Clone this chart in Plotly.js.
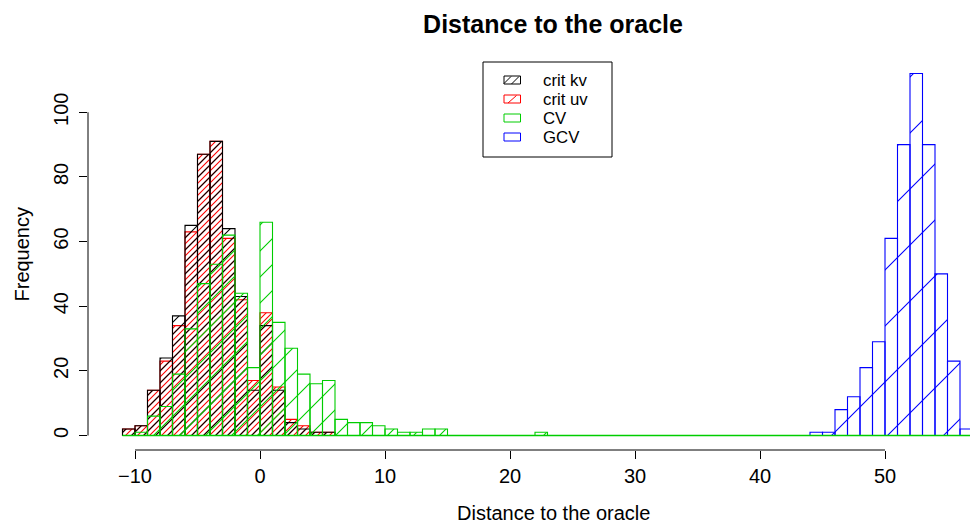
<!DOCTYPE html>
<html>
<head>
<meta charset="utf-8">
<script src="https://cdn.plot.ly/plotly-3.0.1.min.js"></script>
<style>html,body{margin:0;padding:0;background:#fff}#chart{width:970px;height:526px}</style>
</head>
<body>
<div id="chart"></div>
<script>
// ---- data (histogram bins of width 1, left edges + counts) ----
const binWidth = 1;
const kvBins   = [-11,-10,-9,-8,-7,-6,-5,-4,-3,-2,-1,0,1,2,3,4,5];
const kvCounts = [2,3,14,24,37,65,87,91,64,43,14,34,14,4,2,1,1];
const uvBins   = [-11,-10,-9,-8,-7,-6,-5,-4,-3,-2,-1,0,1,2,3,4,5];
const uvCounts = [2,3,14,23,34,63,87,91,61,42,17,38,15,5,3,1,1];
const cvBins   = [-11,-10,-9,-8,-7,-6,-5,-4,-3,-2,-1,0,1,2,3,4,5,6,7,8,9,10,11,12,13,14,15,16,17,18,19,20,21,22];
const cvCounts = [0,1,6,9,19,33,47,53,62,44,21,66,35,27,19,16,17,5,4,4,3,2,1,1,2,2,0,0,0,0,0,0,0,1];
const gcvBins   = [44,45,46,47,48,49,50,51,52,53,54,55,56];
const gcvCounts = [1,1,8,12,21,29,61,90,112,90,50,23,2];
const xTickVals = [-10,0,10,20,30,40,50];
const yTickVals = [0,20,40,60,80,100];
const seriesNames = ['crit kv','crit uv','CV','GCV'];
const seriesColors = ['#000000','#FF0000','#00CD00','#0000FF'];

// ---- geometry ----
const W = 970, H = 526;
const M = {l: 88, r: 0, t: 59, b: 76};
const plotW = W - M.l - M.r, plotH = H - M.t - M.b;
const px2x = px => (px - M.l) / plotW;
const py2y = py => (H - M.b - py) / plotH;
const FONT = 'Liberation Sans, Arial, Helvetica, sans-serif';

function hist(name, bins, counts, color, spacing, lw) {
  const size = spacing / Math.SQRT2;
  return {
    type: 'bar', name: name, showlegend: false,
    x: bins.map(b => b + binWidth / 2), y: counts, width: binWidth,
    hoverinfo: 'skip',
    marker: {
      color: 'rgba(0,0,0,0)',
      line: {color: color, width: 1.1},
      pattern: {shape: '/', fgcolor: color, bgcolor: 'rgba(0,0,0,0)', size: size, solidity: lw / size}
    }
  };
}

const traces = [
  hist(seriesNames[1], uvBins, uvCounts, seriesColors[1], 6, 1.1),
  hist(seriesNames[0], kvBins, kvCounts, seriesColors[0], 12, 1.1),
  hist(seriesNames[3], gcvBins, gcvCounts, seriesColors[3], 56, 1.1),
  hist(seriesNames[2], cvBins, cvCounts, seriesColors[2], 26, 1.1)
];

const allBins = kvBins.concat(uvBins, cvBins, gcvBins);
const brkMin = Math.min(...allBins), brkMax = Math.max(...allBins) + binWidth;

const shapes = [
  {type: 'line', xref: 'x', yref: 'paper', x0: xTickVals[0], x1: xTickVals[xTickVals.length - 1], y0: 0, y1: 0,
   line: {color: '#000', width: 1}},
  {type: 'line', xref: 'paper', yref: 'y', x0: 0, x1: 0, y0: yTickVals[0], y1: yTickVals[yTickVals.length - 1],
   line: {color: '#000', width: 1}},
  {type: 'line', xref: 'x', yref: 'y', x0: brkMin, x1: brkMax, y0: 0, y1: 0, layer: 'above',
   line: {color: seriesColors[2], width: 1.5}},
  // legend box
  {type: 'rect', xref: 'paper', yref: 'paper', x0: px2x(483), x1: px2x(612), y0: py2y(157), y1: py2y(62),
   line: {color: '#000', width: 1}, fillcolor: 'rgba(0,0,0,0)', layer: 'above'}
];
const annotations = [
  {text: 'Distance to the oracle', xref: 'paper', yref: 'paper', x: px2x(553), y: py2y(513),
   xanchor: 'center', yanchor: 'middle', showarrow: false, font: {family: FONT, size: 20, color: '#000'}},
  {text: 'Frequency', xref: 'paper', yref: 'paper', x: px2x(21.5), y: py2y(254), textangle: -90,
   xanchor: 'center', yanchor: 'middle', showarrow: false, font: {family: FONT, size: 20, color: '#000'}}
];

// ---- hand-drawn legend (R style) ----
const legRowY = [80, 99, 118, 137];
const hatchLines = [[[504, 83.5, 511, 76.5], [511.5, 84, 519, 76.5]], [[508, 84, 516.5, 76.5]], [], []];
seriesNames.forEach((nm, i) => {
  const cy = legRowY[i];
  shapes.push({type: 'rect', xref: 'paper', yref: 'paper', x0: px2x(504), x1: px2x(520.5),
               y0: py2y(cy + 4), y1: py2y(cy - 4), line: {color: seriesColors[i], width: 1},
               fillcolor: 'rgba(0,0,0,0)', layer: 'above'});
  hatchLines[i].forEach(s => {
    const dy = cy - 80;
    shapes.push({type: 'line', xref: 'paper', yref: 'paper', x0: px2x(s[0]), y0: py2y(s[1] + dy),
                 x1: px2x(s[2]), y1: py2y(s[3] + dy), line: {color: seriesColors[i], width: 1}, layer: 'above'});
  });
  annotations.push({text: nm, xref: 'paper', yref: 'paper', x: px2x(542), y: py2y(cy),
                    xanchor: 'left', yanchor: 'middle', showarrow: false, borderpad: 0,
                    font: {family: FONT, size: 16.8, color: '#000'}});
});

const layout = {
  width: W, height: H, margin: M,
  paper_bgcolor: '#fff', plot_bgcolor: '#fff',
  barmode: 'overlay', bargap: 0,
  showlegend: false,
  font: {family: FONT, color: '#000'},
  title: {text: '<b>Distance to the oracle</b>', font: {family: FONT, size: 25, color: '#000'},
          xref: 'container', yref: 'container', x: 553 / W, y: 1 - 24 / H, xanchor: 'center', yanchor: 'middle'},
  xaxis: {range: [-13.76, -10 + (W - 135) / 12.5], tickvals: xTickVals, ticks: 'outside', ticklen: 8,
          tickwidth: 1, tickcolor: '#000', showgrid: false, zeroline: false, showline: false,
          tickfont: {family: FONT, size: 20, color: '#000'}, fixedrange: true},
  yaxis: {range: [-4.48, 116.48], tickvals: yTickVals, ticks: 'outside', ticklen: 8, tickangle: -90,
          tickwidth: 1, tickcolor: '#000', showgrid: false, zeroline: false, showline: false,
          ticklabelstandoff: 3,
          tickfont: {family: FONT, size: 20, color: '#000'}, fixedrange: true},
  shapes: shapes,
  annotations: annotations
};

Plotly.newPlot('chart', traces, layout, {displayModeBar: false, staticPlot: true});
</script>
</body>
</html>
